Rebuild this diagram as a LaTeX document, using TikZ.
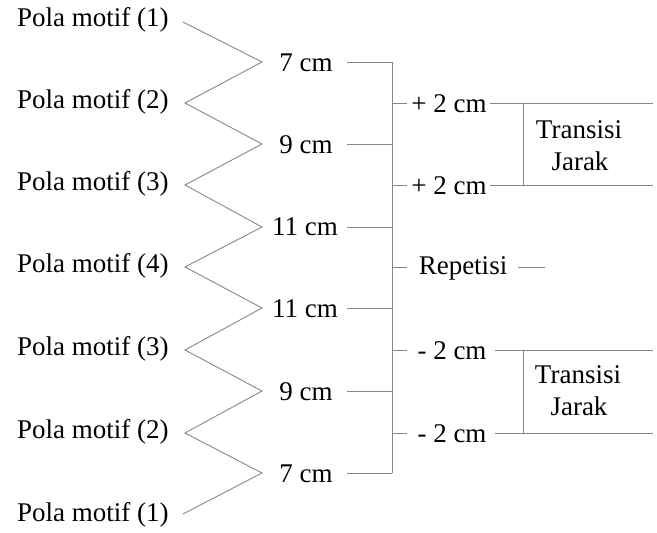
\documentclass[tikz,border=0pt]{standalone}
\usepackage{fontspec}
\setmainfont{Liberation Serif}
\begin{document}
\begin{tikzpicture}[x=1pt,y=-1pt,
  txt/.style={inner sep=0pt, outer sep=0pt, font=\fontsize{27}{32}\selectfont},
  ln/.style={draw=black!47, line width=0.9pt}]
\useasboundingbox (0,0) rectangle (657,533);
% left labels
\node[txt, anchor=west] (p1) at (17,20) {Pola motif (1)};
\node[txt, anchor=west] (p2) at (17,102) {Pola motif (2)};
\node[txt, anchor=west] (p3) at (17,184) {Pola motif (3)};
\node[txt, anchor=west] (p4) at (17,266) {Pola motif (4)};
\node[txt, anchor=west] (p5) at (17,349) {Pola motif (3)};
\node[txt, anchor=west] (p6) at (17,432) {Pola motif (2)};
\node[txt, anchor=west] (p7) at (17,515) {Pola motif (1)};
% zigzag vertices
\coordinate (l1) at (183,22);
\coordinate (l2) at (185,103);
\coordinate (l3) at (185,185);
\coordinate (l4) at (185,267);
\coordinate (l5) at (185,350);
\coordinate (l6) at (185,433);
\coordinate (l7) at (183,514);
\coordinate (r1) at (262,62);
\coordinate (r2) at (262,144);
\coordinate (r3) at (262,227);
\coordinate (r4) at (262,308);
\coordinate (r5) at (262,391);
\coordinate (r6) at (262,473);
% cm labels
\node[txt] (c1) at (306,63) {7 cm};
\node[txt] (c2) at (306,145) {9 cm};
\node[txt] (c3) at (305,227) {11 cm};
\node[txt] (c4) at (305,309) {11 cm};
\node[txt] (c5) at (306,392) {9 cm};
\node[txt] (c6) at (306,474) {7 cm};
\draw[ln] (l1) -- (r1) -- (l2) -- (r2) -- (l3) -- (r3) -- (l4) -- (r4) -- (l5) -- (r5) -- (l6) -- (r6) -- (l7);
% bracket
\coordinate (bt) at (392,62);
\coordinate (bb) at (392,473);
\draw[ln] (bt) -- (bb);
\foreach \i/\y in {1/62,2/144,3/227,4/308,5/391,6/473}
  \draw[ln] (347,\y) -- (392,\y);
% branches
\node[txt] (a1) at (449,104) {+ 2 cm};
\node[txt] (a2) at (449,186) {+ 2 cm};
\node[txt] (rp) at (463,268) {Repetisi};
\node[txt] (m1) at (452,351) {- 2 cm};
\node[txt] (m2) at (452,434) {- 2 cm};
\draw[ln] (392,103) -- (407,103);
\draw[ln] (392,185) -- (407,185);
\draw[ln] (392,267) -- (407,267);
\draw[ln] (392,350) -- (407,350);
\draw[ln] (392,433) -- (407,433);
\draw[ln] (490,103) -- (653,103);
\draw[ln] (490,185) -- (653,185);
\draw[ln] (518,267) -- (545,267);
\draw[ln] (495,350) -- (653,350);
\draw[ln] (495,433) -- (653,433);
\draw[ln] (523,103) -- (523,185);
\draw[ln] (523,350) -- (523,433);
\node[txt, align=center, font=\fontsize{27}{32}\selectfont] (t1) at (579,146) {Transisi\\\hspace*{2pt}Jarak};
\node[txt, align=center, font=\fontsize{27}{32}\selectfont] (t2) at (578,391) {Transisi\\\hspace*{2pt}Jarak};
\end{tikzpicture}
\end{document}
